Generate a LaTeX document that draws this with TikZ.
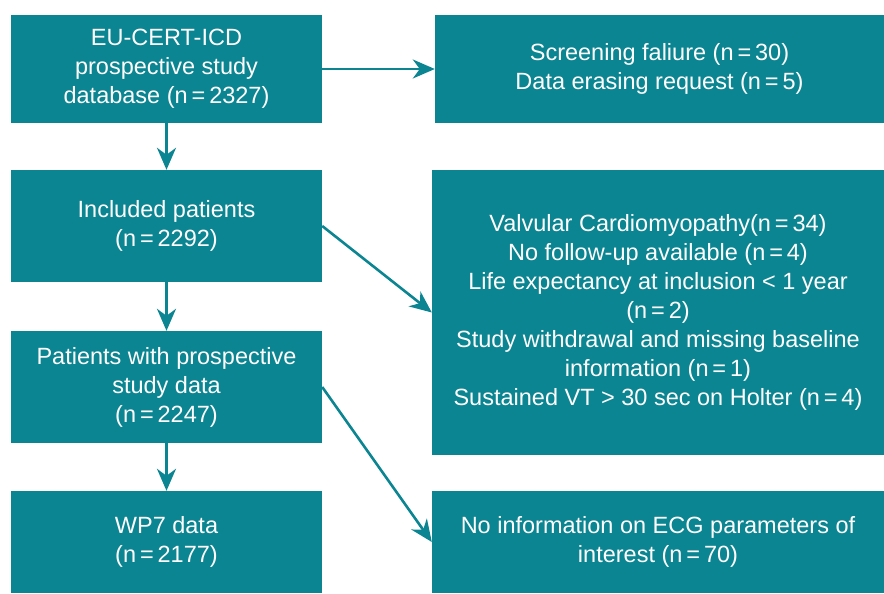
\documentclass[tikz,border=0pt]{standalone}
\usepackage{fontspec}
\setmainfont{Liberation Sans}
\usepackage{xcolor}
\usetikzlibrary{arrows.meta}
\definecolor{flowteal}{RGB}{11,133,145}
\tikzset{FCnode/.style={shape=rectangle,fill=flowteal,text=white,align=center,inner sep=0pt,font=\fontsize{23.5}{29}\selectfont}}

\begin{document}
\begin{tikzpicture}[x=1pt,y=-1pt]
	\useasboundingbox (0,0) rectangle (884,594);
	\node[FCnode,minimum width=311pt,minimum height=108pt] (A) at (166.5,69) {EU-CERT-ICD\\prospective study\\database (n\,=\,2327)};
	\node[FCnode,minimum width=311pt,minimum height=112pt] (B) at (166.5,226) {Included patients\\(n\,=\,2292)};
	\node[FCnode,minimum width=311pt,minimum height=112pt] (C) at (166.5,387) {Patients with prospective\\study data\\(n\,=\,2247)};
	\node[FCnode,minimum width=311pt,minimum height=102pt] (D) at (166.5,542) {WP7 data\\(n\,=\,2177)};
	\node[FCnode,minimum width=449pt,minimum height=108pt] (A') at (659.5,69) {Screening faliure (n\,=\,30)\\Data erasing request (n\,=\,5)};
	\node[FCnode,minimum width=452pt,minimum height=285pt] (B') at (658,312.5) {Valvular Cardiomyopathy(n\,=\,34)\\No follow-up available (n\,=\,4)\\Life expectancy at inclusion < 1 year\\(n\,=\,2)\\Study withdrawal and missing baseline\\information (n\,=\,1)\\Sustained VT > 30 sec on Holter (n\,=\,4)};
	\node[FCnode,minimum width=452pt,minimum height=102pt] (D') at (658,542) {No information on ECG parameters of\\interest (n\,=\,70)};
	%
	\path[-{Stealth[length=22pt,width=19pt,inset=7pt]},flowteal,line width=2.6pt]
	(A) edge (B)
	(B) edge (C)
	(C) edge (D)
	(A.east) edge (A'.west)
	(B.east) edge (B'.west)
	(C.east) edge (D'.west);
\end{tikzpicture}
\end{document}
